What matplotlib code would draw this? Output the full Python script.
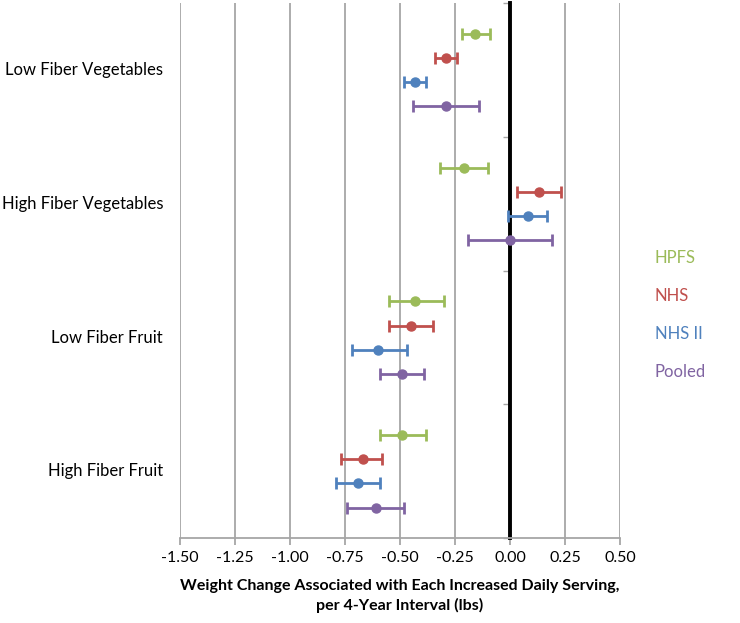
import matplotlib.pyplot as plt
import matplotlib.transforms as mtransforms
import numpy as np

# Данные: оценка изменения веса и 95% ДИ
categories = ['Low Fiber Vegetables', 'High Fiber Vegetables', 'Low Fiber Fruit', 'High Fiber Fruit']
series = ['HPFS', 'NHS', 'NHS II', 'Pooled']
colors = ['#9BBB59', '#C0504D', '#4F81BD', '#8064A2']

estimates = {
    'HPFS':   [-0.16, -0.21, -0.43, -0.49],
    'NHS':    [-0.29, 0.13, -0.45, -0.67],
    'NHS II': [-0.43, 0.08, -0.60, -0.69],
    'Pooled': [-0.29, 0.00, -0.49, -0.61],
}
lower = {
    'HPFS':   [-0.22, -0.32, -0.55, -0.59],
    'NHS':    [-0.34, 0.03, -0.55, -0.77],
    'NHS II': [-0.48, -0.01, -0.72, -0.79],
    'Pooled': [-0.44, -0.19, -0.59, -0.74],
}
upper = {
    'HPFS':   [-0.09, -0.10, -0.30, -0.38],
    'NHS':    [-0.24, 0.23, -0.35, -0.58],
    'NHS II': [-0.38, 0.17, -0.47, -0.59],
    'Pooled': [-0.14, 0.19, -0.39, -0.48],
}
xticks = [-1.5, -1.25, -1.0, -0.75, -0.5, -0.25, 0.0, 0.25, 0.5]

plt.rcParams['font.family'] = ['Lato', 'DejaVu Sans']

fig = plt.figure(figsize=(7.4, 6.23), dpi=100)
ax = fig.add_axes([0.243, 0.136, 0.595, 0.859])

n = len(categories)
cat_pos = np.arange(n)[::-1]  # первая категория сверху
offsets = [0.27, 0.09, -0.09, -0.27]

for s, color, off in zip(series, colors, offsets):
    est = np.array(estimates[s])
    lo = est - np.array(lower[s])
    hi = np.array(upper[s]) - est
    ax.errorbar(est, cat_pos + off, xerr=[lo, hi], fmt='o', color=color,
                ecolor=color, elinewidth=2, capsize=4.5, capthick=2,
                markersize=6.5, zorder=3)

ax.set_xlim(-1.5, 0.5)
ax.set_ylim(-0.5, n - 0.5)
ax.set_xticks(xticks)
ax.set_xticklabels([f'{v:.2f}' for v in xticks], fontsize=11.5)

# вертикальная сетка
for v in xticks:
    ax.axvline(v, color='#A6A6A6', linewidth=1.3, zorder=1)

# ось Y проходит через ноль
ax.spines['left'].set_position(('data', 0))
ax.spines['left'].set_color('black')
ax.spines['left'].set_linewidth(2.8)
ax.spines['left'].set_zorder(2)
ax.spines['top'].set_visible(False)
ax.spines['right'].set_visible(False)
ax.spines['bottom'].set_color('#A6A6A6')
ax.spines['bottom'].set_linewidth(1.3)

ax.set_yticks(np.arange(-0.5, n, 1.0))
ax.set_yticklabels([])
ax.tick_params(axis='y', length=5, width=1, color='#A6A6A6', direction='out')
ax.tick_params(axis='x', length=5, width=1.3, color='#A6A6A6', pad=4)

# подписи категорий слева
trans = mtransforms.blended_transform_factory(fig.transFigure, ax.transData)
for cat, y in zip(categories, cat_pos):
    ax.text(163 / 740, y, cat, transform=trans, ha='right', va='center',
            fontsize=12, color='black')

ax.set_xlabel('Weight Change Associated with Each Increased Daily Serving,\nper 4-Year Interval (lbs)',
              fontsize=11.5, fontweight='bold', labelpad=10, linespacing=1.4)

# легенда в виде цветного текста
legend_y = [258, 296, 334, 372]
for s, color, ly in zip(series, colors, legend_y):
    fig.text(655 / 740, 1 - ly / 623, s, color=color, fontsize=12, ha='left', va='center')

plt.savefig('out.png', dpi=100)
plt.close()
